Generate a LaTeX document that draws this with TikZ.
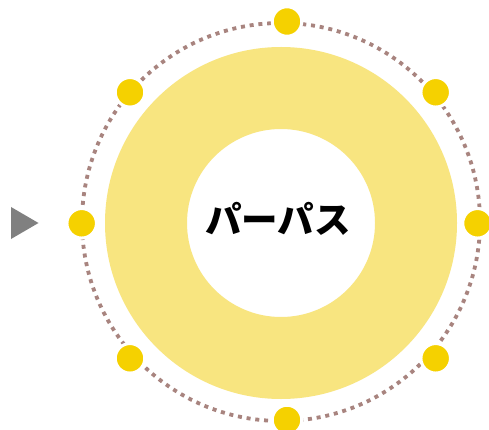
\documentclass[tikz,border=0pt]{standalone}
\usepackage{fontspec}
\newfontfamily\cjk{Noto Sans CJK JP}
\definecolor{ringY}{HTML}{F8E580}
\definecolor{dotY}{HTML}{F5D100}
\definecolor{dotline}{HTML}{A8847F}
\definecolor{triG}{HTML}{808080}
\tikzset{
  marker/.style={circle, fill=dotY, draw=white, line width=3pt, inner sep=0pt, minimum size=29.5pt},
}
\begin{document}
\begin{tikzpicture}[x=1pt,y=-1pt]
\useasboundingbox (0,0) rectangle (489,430);
\fill[white] (0,0) rectangle (489,430);
\coordinate (c) at (281,223);
\fill[ringY, even odd rule] (c) circle[radius=176] (c) circle[radius=94];
\draw[dotline, line width=3.8pt, dash pattern=on 4pt off 4.8pt] (281,222) circle[radius=199];
\node[marker] (n1) at (287,21.5) {};
\node[marker] (n2) at (435.7,92.3) {};
\node[marker] (n3) at (477.5,223.3) {};
\node[marker] (n4) at (435.7,358.3) {};
\node[marker] (n5) at (287,420) {};
\node[marker] (n6) at (130,358.3) {};
\node[marker] (n7) at (81.7,223.3) {};
\node[marker] (n8) at (130,92.3) {};
\fill[triG] (11,207) -- (38.5,223) -- (11,239) -- cycle;
\node[font=\cjk\bfseries\fontsize{36.5}{40}\selectfont, inner sep=0pt] (t) at (278,219) {パーパス};
\end{tikzpicture}
\end{document}
